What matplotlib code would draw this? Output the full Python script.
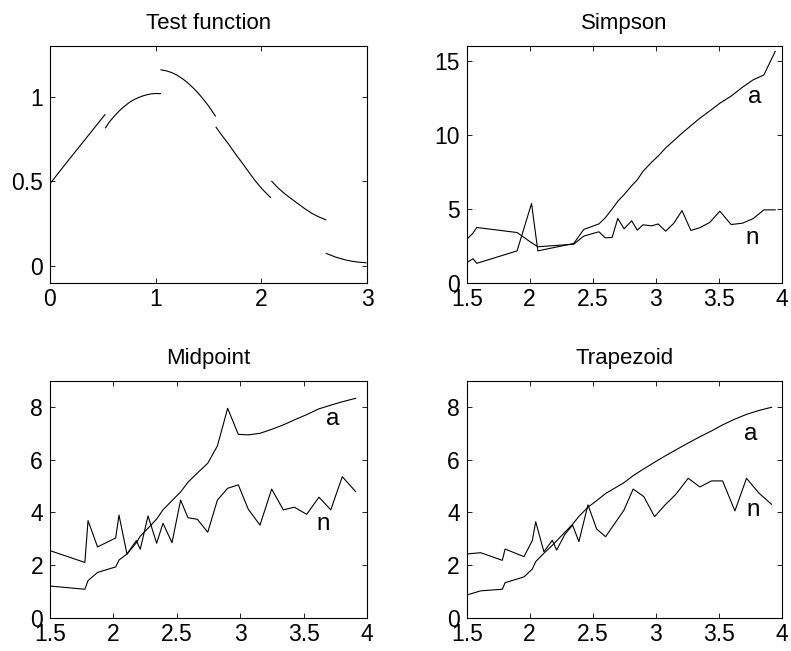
import matplotlib
matplotlib.use("Agg")
import matplotlib.pyplot as plt
from matplotlib.ticker import FormatStrFormatter

plt.rcParams['font.family'] = ['Liberation Sans', 'DejaVu Sans']

# test function, drawn as separate pieces
test_x = [
    [0.0, 0.17, 0.35, 0.52],
    [0.525, 0.56, 0.60, 0.64, 0.675, 0.72, 0.75, 0.79, 0.833, 0.88, 0.92, 0.96, 1.0, 1.045],
    [1.05, 1.10, 1.15, 1.20, 1.25, 1.30, 1.35, 1.40, 1.45, 1.50, 1.565],
    [1.572, 1.63, 1.689, 1.75, 1.815, 1.88, 1.941, 2.01, 2.086],
    [2.099, 2.16, 2.225, 2.29, 2.351, 2.41, 2.478, 2.54, 2.61],
    [2.614, 2.66, 2.70, 2.75, 2.794, 2.85, 2.90, 2.95, 2.99],
]
test_y = [
    [0.485, 0.62, 0.76, 0.893],
    [0.815, 0.848, 0.878, 0.905, 0.927, 0.950, 0.965, 0.980, 0.993, 1.004, 1.011, 1.016, 1.018, 1.017],
    [1.158, 1.152, 1.142, 1.127, 1.107, 1.083, 1.054, 1.022, 0.985, 0.945, 0.885],
    [0.818, 0.768, 0.72, 0.665, 0.611, 0.555, 0.503, 0.452, 0.404],
    [0.499, 0.459, 0.424, 0.393, 0.365, 0.338, 0.31, 0.29, 0.272],
    [0.073, 0.062, 0.052, 0.043, 0.035, 0.028, 0.023, 0.02, 0.018],
]

simp_x = [1.5, 1.55, 1.58, 1.90, 2.015, 2.065, 2.35, 2.43, 2.55, 2.60, 2.655, 2.70,
          2.75, 2.81, 2.855, 2.90, 2.97, 3.02, 3.08, 3.145, 3.21, 3.28, 3.35, 3.43,
          3.51, 3.60, 3.69, 3.775, 3.86, 3.95]
simp_a = [1.35, 1.62, 1.31, 2.15, 5.35, 2.15, 2.65, 3.6, 3.97, 4.38, 4.98, 5.5,
          5.95, 6.55, 6.95, 7.52, 8.15, 8.55, 9.1, 9.6, 10.1, 10.6, 11.1, 11.6,
          12.12, 12.6, 13.2, 13.7, 14.03, 15.62]
simp_n = [2.92, 3.35, 3.73, 3.39, 2.7, 2.43, 2.6, 3.15, 3.44, 3.03, 3.06, 4.34,
          3.64, 4.18, 3.55, 3.91, 3.84, 3.97, 3.48, 4.02, 4.87, 3.53, 3.71, 4.07,
          4.83, 3.93, 4.02, 4.33, 4.92, 4.92]

mid_x = [1.505, 1.775, 1.80, 1.875, 2.018, 2.044, 2.107, 2.181, 2.212, 2.273, 2.341,
         2.391, 2.462, 2.53, 2.588, 2.662, 2.744, 2.82, 2.901, 2.985, 3.064, 3.156,
         3.248, 3.34, 3.427, 3.524, 3.621, 3.714, 3.805, 3.911]
mid_a = [1.2, 1.08, 1.41, 1.72, 1.93, 2.19, 2.42, 2.85, 3.1, 3.4, 3.75,
         4.1, 4.45, 4.78, 5.15, 5.5, 5.87, 6.53, 7.96, 6.97, 6.95, 7.01,
         7.16, 7.33, 7.52, 7.72, 7.94, 8.08, 8.21, 8.34]
mid_n = [2.54, 2.10, 3.69, 2.69, 3.03, 3.90, 2.42, 2.93, 2.60, 3.87, 2.83,
         3.59, 2.85, 4.47, 3.80, 3.74, 3.25, 4.47, 4.92, 5.05, 4.12, 3.52,
         4.89, 4.10, 4.20, 3.93, 4.58, 4.10, 5.36, 4.79]

trap_x = [1.5, 1.611, 1.783, 1.805, 1.955, 2.021, 2.048, 2.113, 2.18, 2.214, 2.28,
          2.341, 2.391, 2.463, 2.532, 2.603, 2.748, 2.822, 2.907, 2.992, 3.076,
          3.161, 3.259, 3.352, 3.444, 3.532, 3.63, 3.722, 3.822, 3.921]
trap_a = [0.86, 1.02, 1.08, 1.33, 1.55, 1.85, 2.13, 2.45, 2.75, 2.92, 3.25,
          3.55, 3.85, 4.2, 4.45, 4.72, 5.13, 5.40, 5.66, 5.91, 6.15,
          6.38, 6.64, 6.88, 7.1, 7.33, 7.55, 7.73, 7.88, 8.0]
trap_n = [2.42, 2.47, 2.18, 2.61, 2.32, 2.93, 3.65, 2.51, 2.94, 2.57, 3.17,
          3.52, 2.89, 4.29, 3.37, 3.08, 4.08, 4.89, 4.60, 3.84, 4.29,
          4.69, 5.30, 4.97, 5.20, 5.20, 4.06, 5.30, 4.73, 4.31]


def style(ax, title, xlim, ylim, xticks, yticks):
    ax.set_xlim(xlim)
    ax.set_ylim(ylim)
    ax.set_xticks(xticks)
    ax.set_yticks(yticks)
    ax.xaxis.set_major_formatter(FormatStrFormatter('%g'))
    ax.yaxis.set_major_formatter(FormatStrFormatter('%g'))
    ax.tick_params(direction='in', top=True, right=True, length=3.5, width=0.6,
                   labelsize=16.5)
    ax.tick_params(axis='y', pad=5)
    for s in ax.spines.values():
        s.set_linewidth(0.8)
    ax.set_title(title, fontsize=16, pad=12)


fig = plt.figure(figsize=(7.91, 6.51), dpi=100)
ax1 = fig.add_axes([0.0632, 0.5657, 0.4008, 0.364])
ax2 = fig.add_axes([0.590, 0.5657, 0.398, 0.364])
ax3 = fig.add_axes([0.0632, 0.0512, 0.4008, 0.3636])
ax4 = fig.add_axes([0.590, 0.0512, 0.398, 0.3636])

for xs, ys in zip(test_x, test_y):
    ax1.plot(xs, ys, color='black', lw=0.8)
style(ax1, 'Test function', (0, 3), (-0.1, 1.3), [0, 1, 2, 3], [0, 0.5, 1])

ax2.plot(simp_x, simp_a, color='black', lw=0.8)
ax2.plot(simp_x, simp_n, color='black', lw=0.8)
ax2.text(3.73, 12.55, 'a', fontsize=17.5, va='center', ha='left')
ax2.text(3.71, 3.05, 'n', fontsize=17.5, va='center', ha='left')
style(ax2, 'Simpson', (1.5, 4), (0, 16), [1.5, 2, 2.5, 3, 3.5, 4], [0, 5, 10, 15])

ax3.plot(mid_x, mid_a, color='black', lw=0.8)
ax3.plot(mid_x, mid_n, color='black', lw=0.8)
ax3.text(3.68, 7.55, 'a', fontsize=17.5, va='center', ha='left')
ax3.text(3.60, 3.56, 'n', fontsize=17.5, va='center', ha='left')
style(ax3, 'Midpoint', (1.5, 4), (0, 9), [1.5, 2, 2.5, 3, 3.5, 4], [0, 2, 4, 6, 8])

ax4.plot(trap_x, trap_a, color='black', lw=0.8)
ax4.plot(trap_x, trap_n, color='black', lw=0.8)
ax4.text(3.70, 6.97, 'a', fontsize=17.5, va='center', ha='left')
ax4.text(3.72, 4.09, 'n', fontsize=17.5, va='center', ha='left')
style(ax4, 'Trapezoid', (1.5, 4), (0, 9), [1.5, 2, 2.5, 3, 3.5, 4], [0, 2, 4, 6, 8])

fig.savefig('out.png', dpi=100)
